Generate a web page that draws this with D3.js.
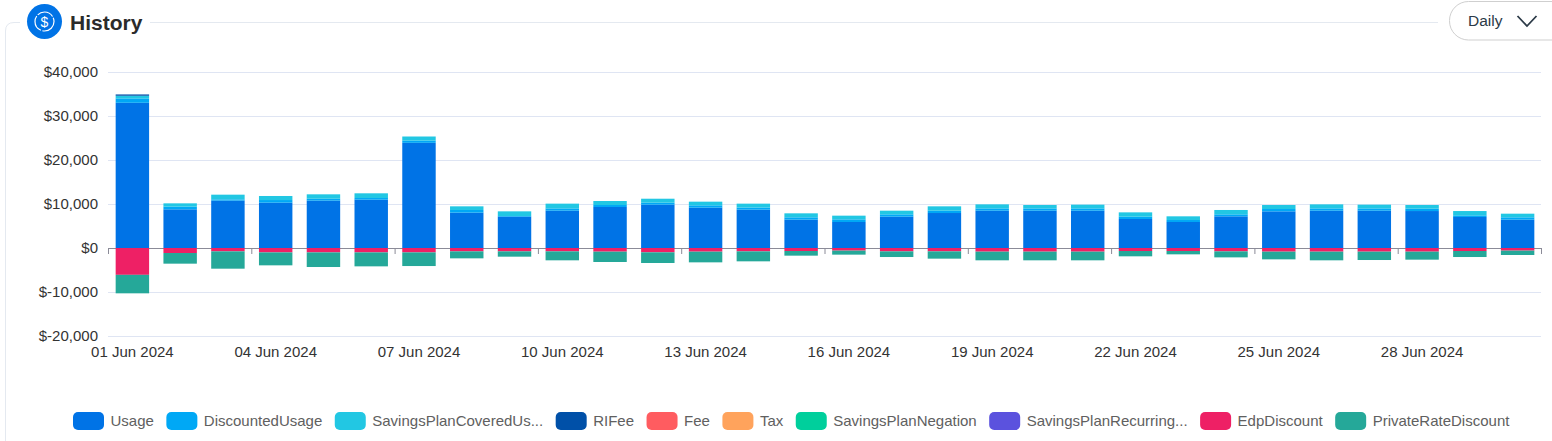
<!DOCTYPE html>
<html>
<head>
<meta charset="utf-8">
<script src="https://cdn.jsdelivr.net/npm/d3@7"></script>
<style>
  html, body { margin: 0; padding: 0; background: #fff; overflow: hidden; }
  text { font-family: "Liberation Sans", Arial, sans-serif; }
</style>
</head>
<body>
<div id="wrapper"></div>
<script>
const days = d3.range(1, 31).map(d => String(d).padStart(2, "0") + " Jun 2024")

const seriesNames = ["Usage", "DiscountedUsage", "SavingsPlanCoveredUsage", "RIFee", "Fee", "Tax", "SavingsPlanNegation", "SavingsPlanRecurringFee", "EdpDiscount", "PrivateRateDiscount"]
const legendLabels = ["Usage", "DiscountedUsage", "SavingsPlanCoveredUs...", "RIFee", "Fee", "Tax", "SavingsPlanNegation", "SavingsPlanRecurring...", "EdpDiscount", "PrivateRateDiscount"]
const seriesColors = ["#0073e6", "#00a8f5", "#22c7e3", "#0050a8", "#ff5c60", "#ffa35c", "#00cf9c", "#5b52de", "#ee2065", "#25a899"]

const usage = [33000, 8790, 10760, 10300, 10760, 10980, 23900, 8030, 7120, 8480, 9320, 9850, 9170, 8710, 6440, 5910, 7120, 7950, 8480, 8480, 8480, 6590, 5910, 7200, 8330, 8480, 8480, 8400, 7050, 6440]
const discountedUsage = [1000, 610, 300, 600, 440, 380, 500, 610, 150, 520, 450, 450, 530, 490, 530, 600, 530, 530, 520, 520, 520, 530, 450, 450, 530, 520, 520, 540, 370, 530]
const savingsPlanCovered = [600, 750, 1060, 920, 1000, 1070, 940, 830, 1060, 1080, 910, 900, 830, 880, 910, 840, 830, 990, 920, 770, 850, 980, 840, 990, 910, 920, 850, 830, 980, 830]
const riFee = [300, 0, 0, 0, 0, 0, 0, 0, 0, 0, 0, 0, 0, 0, 0, 0, 0, 0, 0, 0, 0, 0, 0, 0, 0, 0, 0, 0, 0, 0]
const zeros = days.map(() => 0)
const edpDiscount = [-6100, -1140, -760, -1000, -1000, -1000, -1000, -760, -760, -760, -830, -980, -830, -760, -680, -600, -760, -760, -830, -830, -830, -680, -680, -760, -830, -830, -830, -830, -680, -600]
const privateRateDiscount = [-4200, -2420, -3940, -2940, -3320, -3170, -3100, -1590, -1210, -2040, -2350, -2430, -2430, -2270, -1060, -910, -1290, -1660, -1970, -1970, -1970, -1210, -760, -1370, -1750, -1970, -1900, -1820, -1370, -990]
const seriesValues = [usage, discountedUsage, savingsPlanCovered, riFee, zeros, zeros, zeros, zeros, edpDiscount, privateRateDiscount]

const yTicks = [-20000, -10000, 0, 10000, 20000, 30000, 40000]
const xTickDays = d3.range(0, 30, 3)

const width = 1552
const height = 441

const rows = days.map((day, i) => {
    const row = {day}
    seriesNames.forEach((name, s) => { row[name] = seriesValues[s][i] })
    return row
})

const stacked = d3.stack()
    .keys(seriesNames)
    .offset(d3.stackOffsetDiverging)(rows)

const xScale = d3.scaleBand()
    .domain(days)
    .range([108.5, 1541.5])
    .paddingInner(0.3)
    .paddingOuter(0.15)

const yScale = d3.scaleLinear()
    .domain([-20000, 40000])
    .range([336, 72])

const svg = d3.select("#wrapper")
    .append("svg")
    .attr("width", width)
    .attr("height", height)
    .style("display", "block")

// card outline behind the title
svg.append("path")
    .attr("d", "M5.5 441 V31 Q5.5 22.5 14 22.5 H20 M150 22.5 H1438")
    .attr("fill", "none")
    .attr("stroke", "#e4e9f0")
    .attr("stroke-width", 1)

// title
const badge = svg.append("g").attr("transform", "translate(44.5,21.5)")
badge.append("circle").attr("r", 17.5).attr("fill", "#0073e6")
badge.append("circle").attr("r", 9.5).attr("fill", "none").attr("stroke", "#fff")
    .attr("stroke-width", 1.2).attr("stroke-dasharray", "17 1.5")
badge.append("text").attr("text-anchor", "middle").attr("y", 5)
    .attr("font-size", 14).attr("fill", "#fff").text("$")

svg.append("text")
    .attr("x", 70).attr("y", 30)
    .attr("font-size", 21).attr("font-weight", 700).attr("fill", "#2b2b2b")
    .text("History")

// period selector
svg.append("rect")
    .attr("x", 1449.5).attr("y", 1.5)
    .attr("width", 130).attr("height", 38.5).attr("rx", 19)
    .attr("fill", "#fff").attr("stroke", "#cfcfcf")
svg.append("text")
    .attr("x", 1468).attr("y", 26)
    .attr("font-size", 15.5).attr("fill", "#2c3a47")
    .text("Daily")
svg.append("path")
    .attr("d", "M1517.5 16 L1527 26 L1536.5 16")
    .attr("fill", "none").attr("stroke", "#2c3a47").attr("stroke-width", 1.8)

// grid and y labels
const yAxis = svg.append("g")
    .attr("transform", "translate(108,0)")
    .call(d3.axisLeft(yScale)
        .tickValues(yTicks)
        .tickSize(-(xScale.range()[1] - xScale.range()[0]))
        .tickPadding(10)
        .tickFormat(d => (d < 0 ? "$-" : "$") + d3.format(",")(Math.abs(d))))
yAxis.select(".domain").remove()
yAxis.selectAll(".tick line").attr("stroke", "#dfe5f3")
yAxis.selectAll(".tick text")
    .attr("font-size", 15).attr("fill", "#333")
    .style("font-family", '"Liberation Sans", Arial, sans-serif')

// zero line with its ticks, they sit between the bands and under the bars
const tickIndex = d3.scaleLinear().domain([0, 30]).range([108, 1541])
const zeroAxis = svg.append("g")
    .attr("transform", `translate(0,${yScale(0)})`)
    .call(d3.axisBottom(tickIndex)
        .tickValues(d3.range(0, 31, 3))
        .tickSize(6)
        .tickSizeOuter(0)
        .tickFormat(""))
zeroAxis.select(".domain").attr("stroke", "#8b8b98")
zeroAxis.selectAll(".tick line").attr("stroke", "#8b8b98")

// bars
svg.append("g").selectAll("g")
    .data(stacked)
    .join("g")
    .attr("fill", (d, i) => seriesColors[i])
    .selectAll("rect")
    .data(d => d)
    .join("rect")
    .attr("x", d => xScale(d.data.day))
    .attr("y", d => yScale(d[1]))
    .attr("width", xScale.bandwidth())
    .attr("height", d => yScale(d[0]) - yScale(d[1]))

// date labels
const xAxis = svg.append("g")
    .attr("transform", "translate(0,336)")
    .call(d3.axisBottom(xScale)
        .tickValues(xTickDays.map(i => days[i]))
        .tickSize(0)
        .tickPadding(10))
xAxis.select(".domain").remove()
xAxis.selectAll(".tick text")
    .attr("font-size", 15).attr("fill", "#333")
    .style("font-family", '"Liberation Sans", Arial, sans-serif')

// legend, laid out by measured text width
let legendX = 73
const legend = svg.append("g")
legendLabels.forEach((label, i) => {
    const item = legend.append("g").attr("transform", `translate(${legendX},412)`)
    item.append("rect")
        .attr("width", 31).attr("height", 18).attr("rx", 5)
        .attr("fill", seriesColors[i])
    const text = item.append("text")
        .attr("x", 37.5).attr("y", 14)
        .attr("font-size", 15).attr("fill", "#606060")
        .text(label)
    legendX += 37.5 + text.node().getComputedTextLength() + 12.5
})
</script>
</body>
</html>
